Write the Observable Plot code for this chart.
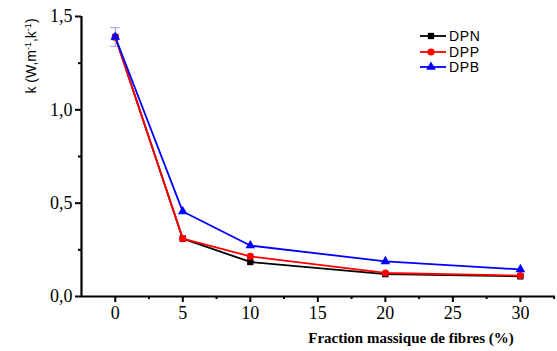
<!DOCTYPE html>
<html><head><meta charset="utf-8">
<script src="https://cdn.jsdelivr.net/npm/d3@7"></script>
<script src="https://cdn.jsdelivr.net/npm/@observablehq/plot@0.6"></script>
<style>body{margin:0;background:#fff}</style>
</head><body><div id="chart"></div>
<script>
const fractions = [0, 5, 10, 20, 30];
const seriesNames = ["DPN", "DPP", "DPB"];
const dpn = [1.39, 0.31, 0.185, 0.12, 0.108];
const dpp = [1.39, 0.31, 0.215, 0.126, 0.112];
const dpb = [1.39, 0.455, 0.273, 0.188, 0.145];
const errTop = [1.44];
const errBottom = [1.34];
const xMajorTicks = [0, 5, 10, 15, 20, 25, 30];
const xMinorTicks = [2.5, 7.5, 12.5, 17.5, 22.5, 27.5, 32.5];
const yMajorTicks = [0, 0.5, 1.0, 1.5];
const yMinorTicks = [0.25, 0.75, 1.25];
const colors = ["#000000", "#ff0000", "#0000ff"];
const symbols = ["square", "circle", "triangle"];

const values = [dpn, dpp, dpb];
const data = [];
seriesNames.forEach((s, i) => fractions.forEach((f, j) => data.push({series: s, x: f, y: values[i][j]})));
const err = [{x: 0, y1: errBottom[0], y2: errTop[0]}];
const caps = [{y: errBottom[0]}, {y: errTop[0]}];
const fmt = d => d3.format(".1f")(d).replace(".", ",");

const serif = "'Liberation Serif', 'Times New Roman', serif";
const sans = "'Liberation Sans', Arial, sans-serif";
const plot = Plot.plot({
  width: 557, height: 351,
  marginLeft: 81, marginTop: 16, marginBottom: 55, marginRight: 2,
  style: {fontFamily: serif, fontSize: "18px", color: "#000", background: "#fff"},
  x: {type: "linear", domain: [-2.5, 32.6]},
  y: {type: "linear", domain: [0, 1.5]},
  color: {domain: seriesNames, range: colors},
  symbol: {domain: seriesNames, range: symbols},
  marks: [
    Plot.ruleY([0], {strokeWidth: 2.2}),
    Plot.ruleX([-2.5], {strokeWidth: 2.2}),
    Plot.axisX({ticks: xMajorTicks, tickSize: 6, tickPadding: 4, strokeWidth: 2, label: null, fontSize: 18}),
    Plot.axisX({ticks: xMinorTicks, tickSize: 3, strokeWidth: 2, text: null, label: null}),
    Plot.axisY({ticks: yMajorTicks, tickSize: 6, tickPadding: 3, strokeWidth: 2, tickFormat: fmt, label: null, fontSize: 18}),
    Plot.axisY({ticks: yMinorTicks, tickSize: 3, strokeWidth: 2, text: null, label: null}),
    Plot.ruleX(err, {x: "x", y1: "y1", y2: "y2", stroke: "#9999ff", strokeWidth: 1}),
    Plot.ruleY(caps, {y: "y", x1: -0.35, x2: 0.35, stroke: "#9999ff", strokeWidth: 1}),
    Plot.line(data, {x: "x", y: "y", z: "series", stroke: "series", strokeWidth: 1.8}),
    Plot.dot(data, {x: "x", y: "y", fill: "series", symbol: "series", r: 3.6, stroke: "none"})
  ]
});
const svg = d3.select(plot);
// x axis title
svg.append("text").attr("x", 411).attr("y", 343).attr("text-anchor", "middle")
  .attr("font-family", serif).attr("font-weight", "bold").attr("font-size", 15).text("Fraction massique de fibres (%)");
// y axis title with superscripts
const yl = svg.append("text").attr("transform", "translate(36,56) rotate(-90)").attr("text-anchor", "middle")
  .attr("font-family", sans).attr("font-size", 14);
yl.append("tspan").text("k (W,m");
yl.append("tspan").attr("dy", -5).attr("font-size", 9).text("-1");
yl.append("tspan").attr("dy", 5).text(",k");
yl.append("tspan").attr("dy", -5).attr("font-size", 9).text("-1");
yl.append("tspan").attr("dy", 5).text(")");
// legend
const sym = [d3.symbolSquare, d3.symbolCircle, d3.symbolTriangle];
const rows = [36, 52, 67];
seriesNames.forEach((s, i) => {
  const y = rows[i];
  const g = svg.append("g");
  g.append("line").attr("x1", 420).attr("x2", 446).attr("y1", y).attr("y2", y).attr("stroke", colors[i]).attr("stroke-width", 1.8);
  g.append("path").attr("d", d3.symbol(sym[i], 40)()).attr("transform", `translate(431,${y})`).attr("fill", colors[i]);
  g.append("text").attr("x", 449).attr("y", y + 5).attr("text-anchor", "start").attr("font-family", sans)
    .attr("font-size", 14).attr("letter-spacing", 0.6).text(s);
});
document.getElementById("chart").appendChild(plot);
</script></body></html>
